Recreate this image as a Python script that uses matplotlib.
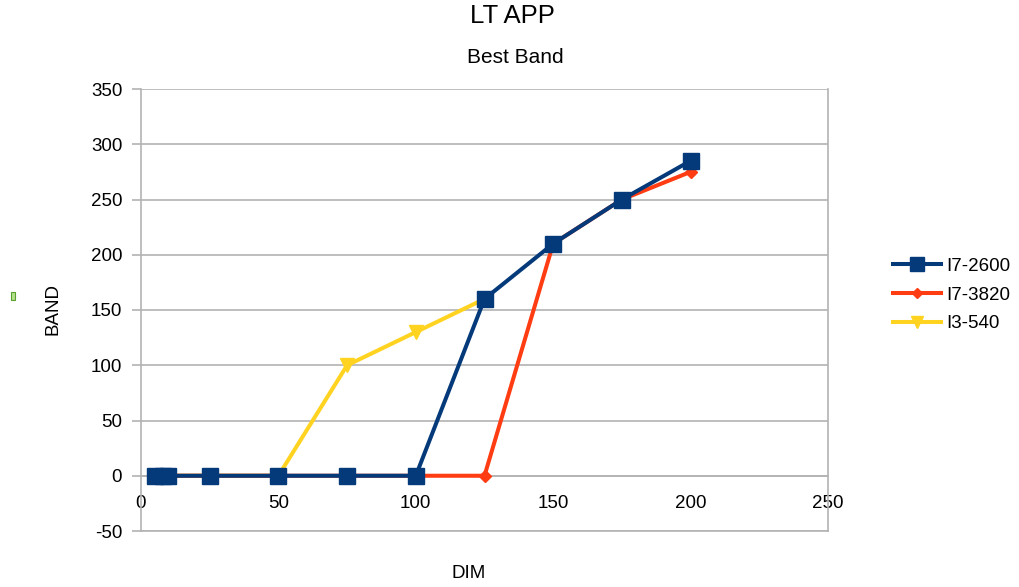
import matplotlib
matplotlib.use("Agg")
import matplotlib.pyplot as plt
from matplotlib.patches import Rectangle

plt.rcParams['font.family'] = ['Liberation Sans', 'DejaVu Sans']
plt.rcParams['axes.unicode_minus'] = False

# DIM values and best band per machine
dim_2600 = [5, 8, 10, 25, 50, 75, 100, 125, 150, 175, 200]
band_2600 = [0, 0, 0, 0, 0, 0, 0, 160, 210, 250, 285]

dim_3820 = [5, 8, 10, 25, 50, 75, 100, 125, 150, 175, 200]
band_3820 = [0, 0, 0, 0, 0, 0, 0, 0, 210, 250, 275]

dim_540 = [5, 8, 10, 25, 50, 75, 100, 125]
band_540 = [0, 0, 0, 0, 0, 100, 130, 160]

series_names = ["I7-2600", "I7-3820", "I3-540"]
x_ticks = [0, 50, 100, 150, 200, 250]
y_ticks = [-50, 0, 50, 100, 150, 200, 250, 300, 350]

BLUE = "#04397a"
RED = "#ff3c12"
YELLOW = "#ffd320"
GRID = "#b3b3b3"

fig = plt.figure(figsize=(10.19, 5.87), dpi=100)
ax = fig.add_axes([141 / 1019, 1 - 531 / 587, 687 / 1019, 442 / 587])

ax.set_xlim(0, 250)
ax.set_ylim(-50, 350)

l1, = ax.plot(dim_2600, band_2600, color=BLUE, lw=2.9, marker='s', ms=11.5,
              zorder=5, label=series_names[0])
l2, = ax.plot(dim_3820, band_3820, color=RED, lw=2.9, marker='D', ms=6.5,
              zorder=4, label=series_names[1])
l3, = ax.plot(dim_540, band_540, color=YELLOW, lw=2.9, marker='v', ms=10,
              zorder=3, label=series_names[2])

ax.set_yticks(y_ticks)
ax.set_xticks(x_ticks)
ax.yaxis.grid(True, color=GRID, lw=1.2)
ax.set_axisbelow(True)

for side in ['left', 'right', 'top', 'bottom']:
    ax.spines[side].set_color(GRID)
    ax.spines[side].set_linewidth(1.2)
ax.spines['top'].set_visible(False)
ax.spines['bottom'].set_position(('data', 0))
ax.axhline(-50, color=GRID, lw=1.2, clip_on=False, zorder=1)

ax.tick_params(axis='y', length=6.5, width=1.2, color=GRID, labelsize=13.5, pad=7)
ax.tick_params(axis='x', length=0, labelsize=13.5, pad=14)

fig.text(512 / 1019, 1 - 16 / 587, "LT APP", ha='center', va='center', fontsize=18.5)
fig.text(515 / 1019, 1 - 57.5 / 587, "Best Band", ha='center', va='center', fontsize=15)
fig.text(53 / 1019, 1 - 309 / 587, "BAND", ha='center', va='center',
         rotation=90, fontsize=13.5)
fig.text(469 / 1019, 1 - 574 / 587, "DIM", ha='center', va='center', fontsize=13.5)

fig.patches.append(Rectangle((11 / 1019, 1 - 300 / 587), 4 / 1019, 8 / 587,
                             transform=fig.transFigure, facecolor="#b4e08f",
                             edgecolor="#5aa02c", lw=0.8))

fig.legend(handles=[l1, l2, l3], loc='center left',
           bbox_to_anchor=(893 / 1019, 1 - 295 / 587), frameon=False,
           fontsize=13.5, handlelength=2.56, handletextpad=0.3,
           labelspacing=0.62, borderaxespad=0, borderpad=0, markerscale=0.85)

fig.savefig("out.png", dpi=100)
